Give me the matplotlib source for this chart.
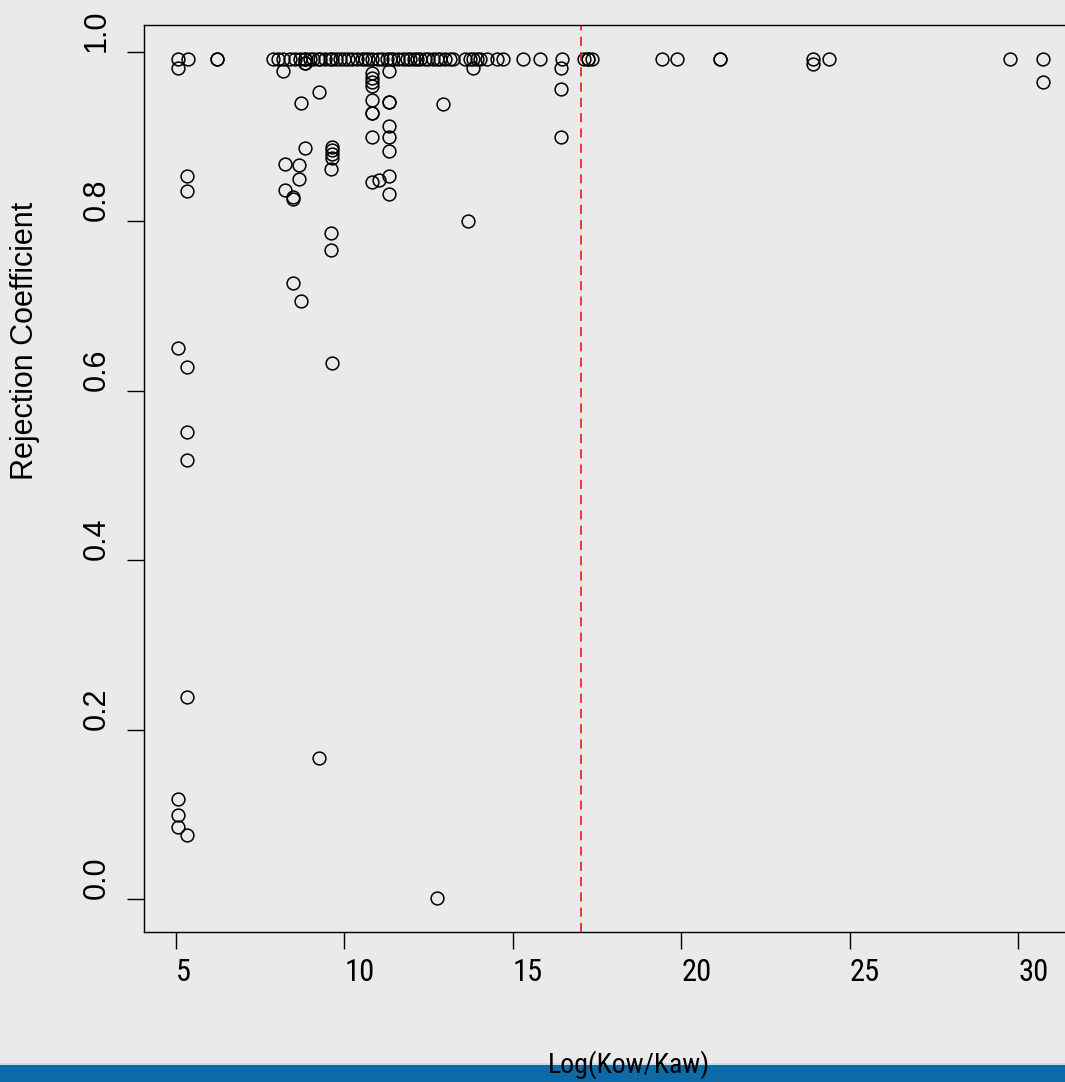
import matplotlib
matplotlib.use("Agg")
import matplotlib.pyplot as plt
from matplotlib.patches import Rectangle

# Values (x = Log(Kow/Kaw), y = rejection coefficient)
top_row_value = 0.992
top_row_x = [5.07, 5.35, 6.21, 6.21,
             7.88, 8.03, 8.18, 8.38, 8.53, 8.68, 8.83, 8.83, 8.98, 9.07,
             9.22, 9.28, 9.42, 9.57, 9.63, 9.75, 9.87, 9.99, 10.11, 10.23,
             10.37, 10.52, 10.61, 10.70, 10.82, 11.00, 11.12, 11.26, 11.35,
             11.44, 11.59, 11.74, 11.86, 11.95, 12.07, 12.16, 12.24, 12.39,
             12.48, 12.63, 12.75, 12.84, 12.99, 13.14, 13.22,
             13.58, 13.73, 13.82, 13.94, 14.03, 14.23, 14.53, 14.71, 15.30,
             15.81, 16.46, 17.11, 17.23, 17.35, 17.23,
             19.42, 19.87, 21.15, 21.15, 23.90, 24.39, 29.76, 30.74]

low_x = [5.07, 5.32, 5.32, 5.07, 5.32, 5.32, 5.32, 5.32, 5.07, 5.07, 5.07, 5.32,
         8.19, 8.70, 9.25, 8.84, 8.25, 8.66, 8.66, 8.25, 8.48, 8.48, 8.48, 8.70,
         9.25, 8.83, 8.83,
         9.62, 9.62, 9.62, 9.62, 9.59, 9.59, 9.59, 9.63,
         10.81, 10.81, 10.81, 10.81, 10.81, 10.81, 10.81, 10.81, 10.82, 11.04,
         11.33, 11.33, 11.33, 11.33, 11.33, 11.33, 11.33, 11.33,
         12.94, 12.76, 13.67, 13.82, 16.44, 16.44, 16.44,
         23.90, 30.74]
low_y = [0.981, 0.854, 0.836, 0.650, 0.628, 0.551, 0.518, 0.238, 0.118, 0.099, 0.085, 0.076,
         0.977, 0.940, 0.953, 0.887, 0.868, 0.867, 0.850, 0.837, 0.829, 0.827, 0.727, 0.706,
         0.166, 0.987, 0.987,
         0.888, 0.884, 0.879, 0.875, 0.862, 0.786, 0.766, 0.633,
         0.975, 0.969, 0.964, 0.960, 0.943, 0.928, 0.928, 0.900, 0.847, 0.849,
         0.977, 0.941, 0.941, 0.913, 0.900, 0.883, 0.854, 0.832,
         0.939, 0.001, 0.800, 0.981, 0.981, 0.956, 0.900,
         0.986, 0.965]

threshold_x = 17.03

x_ticks = [5, 10, 15, 20, 25, 30]
x_tick_labels = ["5", "10", "15", "20", "25", "30"]
y_ticks = [0.0, 0.2, 0.4, 0.6, 0.8, 1.0]
y_tick_labels = ["0.0", "0.2", "0.4", "0.6", "0.8", "1.0"]

# horizontal texts in the reference use a condensed face
narrow = ["Liberation Sans Narrow", "Nimbus Sans Narrow", "Arial Narrow",
          "Roboto Condensed", "Open Sans Condensed", "Liberation Sans"]

W, H = 1065, 1082
fig = plt.figure(figsize=(W / 100, H / 100), dpi=100, facecolor="#eaeaea")

# plot box (right edge runs past the picture like in the reference)
ax = fig.add_axes([143.7 / W, (H - 931.6) / H, 934 / W, (931.6 - 25.2) / H])
ax.set_facecolor("none")

all_x = top_row_x + low_x
all_y = [top_row_value] * len(top_row_x) + low_y
ax.plot(all_x, all_y, linestyle="none", marker="o", markersize=9.2,
        markerfacecolor="none", markeredgecolor="black", markeredgewidth=1.1)
ax.axvline(threshold_x, color="red", linestyle=(0, (6, 4)), linewidth=1.1)

# R style 4% padding
xr = max(all_x) - min(all_x)
yr = max(all_y) - min(all_y)
ax.set_xlim(min(all_x) - 0.04 * xr, max(all_x) + 0.04 * xr)
ax.set_ylim(min(all_y) - 0.04 * yr, max(all_y) + 0.04 * yr)

for s in ax.spines.values():
    s.set_linewidth(1.0)
    s.set_color("black")

ax.set_xticks(x_ticks)
ax.set_xticklabels(x_tick_labels, fontfamily=narrow, fontsize=22, ha="left")
ax.set_yticks(y_ticks)
ax.set_yticklabels(y_tick_labels, fontfamily="Liberation Sans", fontsize=22,
                   rotation=90, ha="center", va="bottom")
ax.tick_params(axis="x", direction="out", length=12.2, width=1.0, pad=7)
ax.tick_params(axis="y", direction="out", length=12.2, width=1.0, pad=21.5)

# axis titles
fig.text(25 / W, (H - 480) / H, "Rejection Coefficient", rotation=90,
         ha="center", va="bottom", fontsize=22, fontfamily="Liberation Sans")

# blue footer band of the slide
fig.patches.append(Rectangle((0, 0), 1, 17 / H, transform=fig.transFigure,
                             facecolor="#0c6aa8", edgecolor="none", zorder=1))
fig.patches.append(Rectangle((0, 17 / H), 1, 2 / H, transform=fig.transFigure,
                             facecolor="#c9dce9", edgecolor="none", zorder=1))

fig.text(629 / W, 9 / H, "Log(Kow/Kaw)", ha="center", va="baseline", fontsize=20,
         fontfamily=narrow, zorder=3)

fig.savefig("out.png", dpi=100, facecolor=fig.get_facecolor())
